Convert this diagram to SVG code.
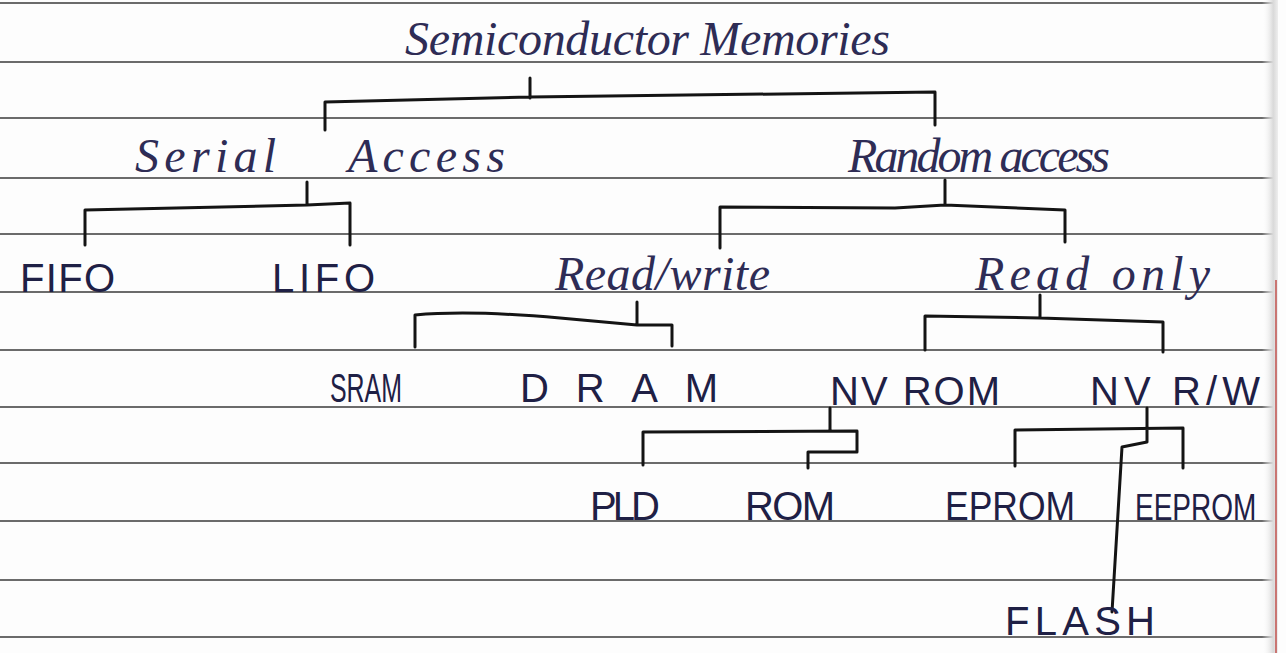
<svg xmlns="http://www.w3.org/2000/svg" width="1286" height="653" viewBox="0 0 1286 653">
<defs>
<linearGradient id="edge" x1="0" y1="0" x2="1" y2="0">
<stop offset="0" stop-color="#ffffff" stop-opacity="0"/>
<stop offset="0.7" stop-color="#d9d9d9"/>
<stop offset="1" stop-color="#eeeeee"/>
</linearGradient>
</defs>
<style>
.rule{stroke:#6b6b6b;stroke-width:2;fill:none}
.cur{font-family:"Liberation Serif",serif;font-style:italic;font-size:48px;fill:#2e2c55}
.cap{font-family:"Liberation Sans",sans-serif;font-size:40px;fill:#1f2045}
.con{stroke:#141414;stroke-width:3;fill:none;stroke-linejoin:round;stroke-linecap:round}
</style>
<rect width="1286" height="653" fill="#fdfdfd"/>
<g id="paper">
<path class="rule" d="M0 3H1276M0 62H1276M0 118H1276M0 178H1276M0 234H1276M0 292H1276M0 350H1276M0 407H1276M0 463H1276M0 521H1276M0 580H1276M0 637H1276"/>
<rect x="1262" y="0" width="16" height="653" fill="url(#edge)"/>
<line x1="1276" y1="280" x2="1276" y2="653" stroke="#c0504d" stroke-width="1.5"/>
</g>
<g id="connectors">
<path class="con" d="M530 78V98M325 130V102L530 97L935 92V125"/>
<path class="con" d="M307 182V205M85 245V210L307 205L350 203V245"/>
<path class="con" d="M945 180V205M720 248V207L895 208L945 205L1065 210V242"/>
<path class="con" d="M637 302V324M415 347V315Q470 310 560 318L637 325L672 325V346"/>
<path class="con" d="M1040 295V318M925 350V316L1040 318L1163 322V352"/>
<path class="con" d="M830 408V430M643 465V432L857 431V452H808V468"/>
<path class="con" d="M1147 408V430M1015 466V430L1183 428V468M1147 430V442L1122 447L1112 612"/>
</g>
<g id="n-semiconductor"><text class="cur" x="405" y="55" textLength="485" lengthAdjust="spacing">Semiconductor Memories</text></g>
<g id="n-serial"><text class="cur" x="135" y="172" textLength="370" lengthAdjust="spacing" word-spacing="50">Serial Access</text></g>
<g id="n-random"><text class="cur" x="848" y="172" textLength="262" lengthAdjust="spacing">Random access</text></g>
<g id="n-fifo"><text class="cap" x="20" y="292" textLength="95" lengthAdjust="spacing">FIFO</text></g>
<g id="n-lifo"><text class="cap" x="272" y="292" textLength="103" lengthAdjust="spacing">LIFO</text></g>
<g id="n-readwrite"><text class="cur" x="555" y="290" textLength="215" lengthAdjust="spacing">Read/write</text></g>
<g id="n-readonly"><text class="cur" x="975" y="290" textLength="235" lengthAdjust="spacing">Read only</text></g>
<g id="n-sram"><text class="cap" x="330" y="402" textLength="72" lengthAdjust="spacingAndGlyphs">SRAM</text></g>
<g id="n-dram"><text class="cap" x="520" y="402" textLength="198" lengthAdjust="spacing">DRAM</text></g>
<g id="n-nvrom"><text class="cap" x="830" y="405" textLength="170" lengthAdjust="spacing">NV ROM</text></g>
<g id="n-nvrw"><text class="cap" x="1090" y="405" textLength="170" lengthAdjust="spacing">NV R/W</text></g>
<g id="n-pld"><text class="cap" x="590" y="520" textLength="70" lengthAdjust="spacing">PLD</text></g>
<g id="n-rom"><text class="cap" x="745" y="520" textLength="90" lengthAdjust="spacing">ROM</text></g>
<g id="n-eprom"><text class="cap" x="945" y="520" textLength="130" lengthAdjust="spacingAndGlyphs">EPROM</text></g>
<g id="n-eeprom"><text class="cap" transform="translate(1135 520) scale(1 1.3)" x="0" y="0" style="font-size:28px">EEPROM</text></g>
<g id="n-flash"><text class="cap" x="1005" y="635" textLength="150" lengthAdjust="spacing">FLASH</text></g>
</svg>
